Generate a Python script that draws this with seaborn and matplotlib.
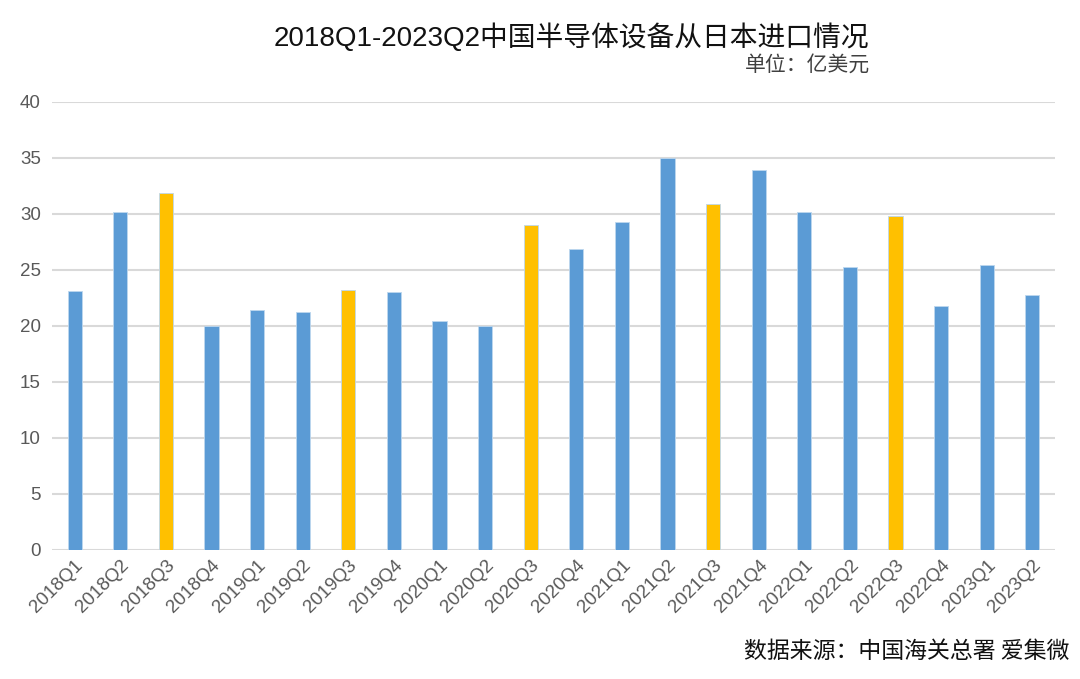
import matplotlib
matplotlib.use('Agg')
import matplotlib.pyplot as plt
import pandas as pd
import seaborn as sns

quarters = ['2018Q1', '2018Q2', '2018Q3', '2018Q4',
            '2019Q1', '2019Q2', '2019Q3', '2019Q4',
            '2020Q1', '2020Q2', '2020Q3', '2020Q4',
            '2021Q1', '2021Q2', '2021Q3', '2021Q4',
            '2022Q1', '2022Q2', '2022Q3', '2022Q4',
            '2023Q1', '2023Q2']
values = [23.1, 30.2, 31.9, 20.0,
          21.4, 21.2, 23.2, 23.0,
          20.4, 20.0, 29.0, 26.9,
          29.3, 35.0, 30.9, 33.9,
          30.2, 25.3, 29.8, 21.8,
          25.4, 22.8]
y_ticks = [0, 5, 10, 15, 20, 25, 30, 35, 40]

title = '2018Q1-2023Q2中国半导体设备从日本进口情况'
unit = '单位：亿美元'
source = '数据来源：中国海关总署 爱集微'

df = pd.DataFrame({'quarter': quarters, 'value': values})
# Q3 bars are highlighted in yellow
colors = ['#FFC000' if q.endswith('Q3') else '#5B9BD5' for q in quarters]

sns.set_style('white')
plt.rcParams['font.family'] = ['Liberation Sans', 'Noto Sans CJK SC', 'DejaVu Sans']

fig = plt.figure(figsize=(10.8, 6.79), dpi=100)
ax = fig.add_axes([0.048, 0.19, 0.929, 0.66])

sns.barplot(data=df, x='quarter', y='value', hue='quarter', palette=colors,
            saturation=1, legend=False, width=0.31, ax=ax,
            edgecolor='#BDD7EE', linewidth=0.6, zorder=3)

ax.set_xlim(-0.5, len(quarters) - 0.5)
ax.set_ylim(0, 40)
ax.set_yticks(y_ticks)
ax.yaxis.grid(True, color='#D9D9D9', linewidth=1.5, zorder=0)
ax.set_axisbelow(True)
for s in ax.spines.values():
    s.set_visible(False)
ax.set_xlabel('')
ax.set_ylabel('')
ax.tick_params(axis='y', length=0, pad=8, labelsize=13.5, labelcolor='#595959')
ax.tick_params(axis='x', length=0, pad=5, labelsize=13.5, labelcolor='#595959')
plt.setp(ax.get_xticklabels(), rotation=45, ha='right', rotation_mode='anchor')

fig.text(0.529, 0.944, title, ha='center', va='center', fontsize=20, color='#111111',
         family=['Liberation Sans', 'Noto Sans CJK SC'])
fig.text(0.806, 0.904, unit, ha='right', va='center', fontsize=15, color='#404040',
         family=['Noto Sans CJK SC'])
fig.text(0.99, 0.04, source, ha='right', va='center', fontsize=16.5, color='#111111',
         family=['Noto Sans CJK SC'])

fig.savefig('out.png', dpi=100)
